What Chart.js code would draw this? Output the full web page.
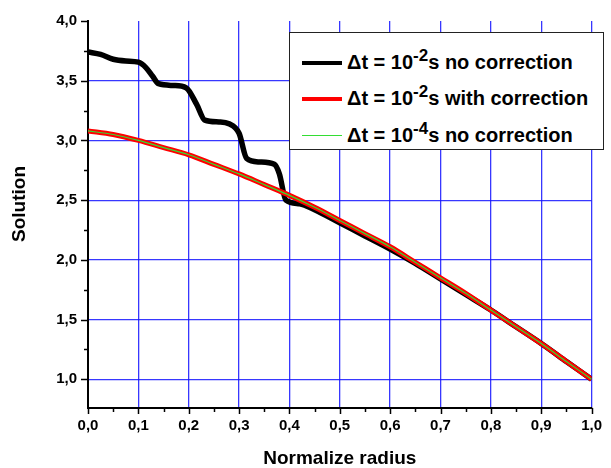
<!DOCTYPE html>
<html>
<head>
<meta charset="utf-8">
<script src="https://cdn.jsdelivr.net/npm/chart.js@4"></script>
<style>
  html, body { margin: 0; padding: 0; background: #fff; }
  #wrap { position: relative; width: 611px; height: 468px; }
  #legend {
    position: absolute; left: 289px; top: 32px; width: 315px; height: 118px;
    border: 1px solid #222; background: #fff; box-sizing: border-box;
    font-family: "Liberation Sans", Arial, sans-serif; font-weight: bold; font-size: 20px; color: #000;
  }
  .row { position: absolute; left: 0; height: 22px; white-space: nowrap; }
  .swatch { position: absolute; left: 12px; width: 40px; }
  .label { position: absolute; left: 57px; top: 0; line-height: 22px; }
  .label sup { font-size: 17px; vertical-align: 0; position: relative; top: -8px; }
</style>
</head>
<body>
<div id="wrap">
  <canvas id="c" width="611" height="468"></canvas>
  <div id="legend">
    <div class="row" style="top:18px"><div class="swatch" style="top:10px;height:4px;background:#000"></div><div class="label">&Delta;t = 10<sup>-2</sup>s no correction</div></div>
    <div class="row" style="top:54px"><div class="swatch" style="top:10px;height:4px;background:#ff0000"></div><div class="label">&Delta;t = 10<sup>-2</sup>s with correction</div></div>
    <div class="row" style="top:91px"><div class="swatch" style="top:11px;height:1px;background:#33dd33"></div><div class="label">&Delta;t = 10<sup>-4</sup>s no correction</div></div>
  </div>
</div>
<script>
// ---- data ----
const radius = [0, 0.05, 0.10, 0.15, 0.20, 0.25, 0.30, 0.35, 0.40, 0.45, 0.50, 0.55, 0.60, 0.65, 0.70, 0.75, 0.80, 0.85, 0.90, 0.95, 1.00];
const withCorrection = [3.08, 3.05, 3.00, 2.94, 2.88, 2.80, 2.72, 2.63, 2.54, 2.44, 2.33, 2.22, 2.11, 1.98, 1.85, 1.72, 1.58, 1.44, 1.30, 1.15, 1.00];
const fineStep = [3.08, 3.05, 3.00, 2.94, 2.88, 2.80, 2.72, 2.63, 2.54, 2.44, 2.33, 2.22, 2.11, 1.98, 1.85, 1.72, 1.58, 1.44, 1.30, 1.15, 1.00];
const coarseRadius = [0, 0.025, 0.05, 0.075, 0.10, 0.115, 0.128, 0.14, 0.17, 0.195, 0.216, 0.232, 0.26, 0.28, 0.30, 0.315, 0.34, 0.37, 0.38, 0.393, 0.42, 0.45, 0.50, 0.55, 0.60, 0.65, 0.70, 0.75, 0.80, 0.85, 0.90, 0.95, 1.00];
const noCorrection = [3.74, 3.72, 3.68, 3.665, 3.655, 3.61, 3.54, 3.475, 3.46, 3.44, 3.30, 3.17, 3.155, 3.14, 3.06, 2.85, 2.82, 2.80, 2.72, 2.50, 2.47, 2.42, 2.31, 2.20, 2.09, 1.97, 1.84, 1.71, 1.58, 1.44, 1.30, 1.15, 1.00];
const xTickLabels = ['0,0','0,1','0,2','0,3','0,4','0,5','0,6','0,7','0,8','0,9','1,0'];
const yTickLabels = ['1,0','1,5','2,0','2,5','3,0','3,5','4,0'];
const xTitle = 'Normalize radius';
const yTitle = 'Solution';

const FONT = '"Liberation Sans", Arial, sans-serif';
const GRID = 'rgba(20,20,255,0.85)';
const pts = (xs, ys) => xs.map((x, i) => ({ x: x, y: ys[i] }));
const near = (v, s) => Math.abs(v / s - Math.round(v / s)) < 1e-6;

const decor = {
  id: 'decor',
  afterDraw(chart) {
    const ctx = chart.ctx, xs = chart.scales.x, ys = chart.scales.y, a = chart.chartArea;
    ctx.save();
    ctx.strokeStyle = '#000';
    ctx.lineWidth = 1.5;
    ys.ticks.forEach(t => {
      const y = Math.round(ys.getPixelForValue(t.value)) + 0.5;
      const len = near(t.value, 0.5) ? 7 : 4;
      ctx.beginPath(); ctx.moveTo(a.left - len, y); ctx.lineTo(a.left, y); ctx.stroke();
    });
    xs.ticks.forEach(t => {
      const x = Math.round(xs.getPixelForValue(t.value)) + 0.5;
      const len = near(t.value, 0.1) ? 6 : 4;
      ctx.beginPath(); ctx.moveTo(x, a.bottom); ctx.lineTo(x, a.bottom + len); ctx.stroke();
    });
    ctx.fillStyle = '#000';
    ctx.font = 'bold 19px ' + FONT;
    ctx.translate(25, 204);
    ctx.rotate(-Math.PI / 2);
    ctx.textAlign = 'center';
    ctx.textBaseline = 'alphabetic';
    ctx.fillText(yTitle, 0, 0);
    ctx.restore();
  }
};

new Chart(document.getElementById('c'), {
  type: 'line',
  data: {
    datasets: [
      { label: 'dt=1e-4 no correction', data: pts(radius, fineStep), borderColor: '#33dd33', borderWidth: 1.2, order: 0 },
      { label: 'dt=1e-2 with correction', data: pts(radius, withCorrection), borderColor: '#ff0000', borderWidth: 5, order: 1 },
      { label: 'dt=1e-2 no correction', data: pts(coarseRadius, noCorrection), borderColor: '#000000', borderWidth: 5.5, order: 2 }
    ]
  },
  options: {
    responsive: false,
    devicePixelRatio: 1,
    animation: false,
    layout: { padding: { left: 0, top: 21, right: 14, bottom: 0 } },
    elements: { point: { radius: 0 }, line: { cubicInterpolationMode: 'monotone', borderCapStyle: 'butt', borderJoinStyle: 'round' } },
    plugins: { legend: { display: false }, tooltip: { enabled: false } },
    scales: {
      x: {
        type: 'linear', min: 0, max: 1,
        afterFit(s) { s.height = 60; },
        afterBuildTicks(s) { const t = []; for (let i = 0; i <= 20; i++) t.push({ value: i * 0.05 }); s.ticks = t; },
        ticks: {
          autoSkip: false, maxRotation: 0, padding: 9, color: '#000',
          font: { family: FONT, weight: 'bold', size: 15 },
          callback(v) { return near(v, 0.1) ? xTickLabels[Math.round(v * 10)] : ''; }
        },
        grid: {
          drawTicks: false,
          color(c) { const v = c.tick.value; return (v > 0.01 && near(v, 0.1)) ? GRID : 'rgba(0,0,0,0)'; },
          lineWidth: 1.3
        },
        border: { display: true, color: '#000', width: 2 },
        title: { display: true, text: xTitle, color: '#000', font: { family: FONT, weight: 'bold', size: 19, lineHeight: 1 }, padding: { top: 0, bottom: 0 } }
      },
      y: {
        type: 'linear', min: 0.76, max: 4.0,
        afterFit(s) { s.width = 88; },
        afterBuildTicks(s) { const t = []; for (let i = 0; i <= 12; i++) t.push({ value: 1 + i * 0.25 }); s.ticks = t; },
        ticks: {
          autoSkip: false, padding: 11, color: '#000',
          font: { family: FONT, weight: 'bold', size: 15 },
          callback(v) { return near(v, 0.5) ? yTickLabels[Math.round((v - 1) * 2)] : ''; }
        },
        grid: {
          drawTicks: false,
          color(c) { const v = c.tick.value; return (near(v, 0.5) && v < 3.9) ? GRID : 'rgba(0,0,0,0)'; },
          lineWidth: 1.3
        },
        border: { display: true, color: '#000', width: 2 }
      }
    }
  },
  plugins: [decor]
});
</script>
</body>
</html>
